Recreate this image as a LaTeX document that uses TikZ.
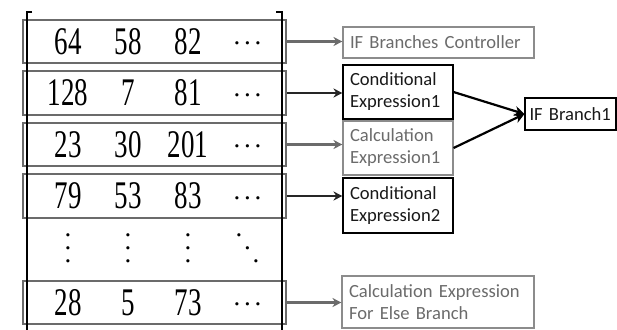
\documentclass[tikz,border=0pt]{standalone}
\usepackage{fontspec}
\usepackage{graphicx}
\setmainfont{Liberation Serif}
\newfontfamily\lblfont{Carlito}
\usetikzlibrary{arrows.meta}
\definecolor{rowgray}{gray}{0.42}
\definecolor{lightgray}{gray}{0.55}
\definecolor{lighttext}{gray}{0.42}
\definecolor{darktext}{gray}{0.1}
\newcommand{\tallnum}[1]{\scalebox{1}[1.45]{\fontsize{27}{27}\selectfont #1}}
\newcommand{\hdotsbox}{\hbox{\fontsize{27}{27}\selectfont .\kern3.8pt.\kern3.8pt.}}
\newcommand{\vdotsbox}{\vbox{\fontsize{27}{13}\selectfont\baselineskip=13pt\lineskiplimit=-20pt\hbox{.}\hbox{.}\hbox{.}}}
\newcommand{\ddotsbox}{\hbox{\fontsize{27}{27}\selectfont\raise26pt\hbox{.}\kern1.8pt\raise13pt\hbox{.}\kern1.8pt\hbox{.}}}
\begin{document}
\begin{tikzpicture}[x=1pt,y=-1pt,
  rowbox/.style={draw=rowgray, line width=1.1pt, rectangle, minimum width=263pt, inner sep=0pt},
  num/.style={inner sep=0pt, anchor=center},
  lbox/.style={rectangle, inner xsep=7pt, inner ysep=0pt, align=left, font=\lblfont\fontsize{18.6}{22}\selectfont},
  graybox/.style={lbox, draw=lightgray, line width=1.1pt, text=lighttext},
  darkbox/.style={lbox, draw=black, line width=1.1pt, text=darktext},
  grayarrow/.style={draw=rowgray, line width=2.5pt, -{Stealth[length=9pt,width=9pt]}},
  darkarrow/.style={draw=black!85, line width=2.6pt, -{Stealth[length=9pt,width=9pt]}},
  blackarrow/.style={draw=black, line width=2.2pt, -{Stealth[length=10pt,width=10pt]}},
  bracket/.style={draw=black, line width=1.6pt}
]
\useasboundingbox (0,0) rectangle (617,329);

% row boxes
\node[rowbox, minimum height=43pt] (r1) at (154.5,41.5) {};
\node[rowbox, minimum height=44pt] (r2) at (154.5,93) {};
\node[rowbox, minimum height=43pt] (r3) at (154.5,144.5) {};
\node[rowbox, minimum height=44pt] (r4) at (154.5,196) {};
\node[rowbox, minimum height=43pt] (r5) at (154.5,302.5) {};

% bracket
\draw[bracket] (32,12) -- (27,12) -- (27,335);
\draw[bracket] (276,12) -- (282,12) -- (282,335);

% numbers
\foreach \y/\a/\b/\c/\n in {41.5/64/58/82/1, 93/128/7/81/2, 144.5/23/30/201/3, 196/79/53/83/4, 302.5/28/5/73/5}{
  \node[num] (n\n a) at (68,\y) {\tallnum{\a}};
  \node[num] (n\n b) at (128,\y) {\tallnum{\b}};
  \node[num] (n\n c) at (188,\y) {\tallnum{\c}};
  \node[num] (n\n d) at (247.5,\y+2) {\hdotsbox};
}
\node[num] (v1) at (68,248) {\vdotsbox};
\node[num] (v2) at (128,248) {\vdotsbox};
\node[num] (v3) at (188,248) {\vdotsbox};
\node[num] (v4) at (247.5,248) {\ddotsbox};

% right boxes
\node[graybox, minimum width=191pt, minimum height=31pt, text width=177pt] (ctrl) at (438.5,42.5) {IF Branches Controller};
\node[darkbox, minimum width=110pt, minimum height=54pt, text width=96pt] (cond1) at (398,92) {Conditional\\Expression1};
\node[graybox, minimum width=110pt, minimum height=54pt, text width=96pt] (calc1) at (398,148) {Calculation\\Expression1};
\node[darkbox, minimum width=110pt, minimum height=55pt, text width=96pt] (cond2) at (398,205.5) {Conditional\\Expression2};
\node[graybox, minimum width=192pt, minimum height=52pt, text width=178pt] (calce) at (438,302) {Calculation Expression\\For Else Branch};
\node[darkbox, inner xsep=4.5pt, minimum width=91pt, minimum height=32pt, text width=82pt] (ifb) at (570.5,114) {IF Branch1};

% connectors
\draw[grayarrow] (r1.east) -- (r1.east -| ctrl.west);
\draw[darkarrow] (r2.east) -- (r2.east -| cond1.west);
\draw[grayarrow] (r3.east) -- (r3.east -| calc1.west);
\draw[darkarrow] (r4.east) -- (r4.east -| cond2.west);
\draw[grayarrow] (r5.east) -- (r5.east -| calce.west);
\draw[blackarrow] (cond1.east) -- (ifb.west);
\draw[blackarrow] (calc1.east) -- (ifb.west);
\end{tikzpicture}
\end{document}
